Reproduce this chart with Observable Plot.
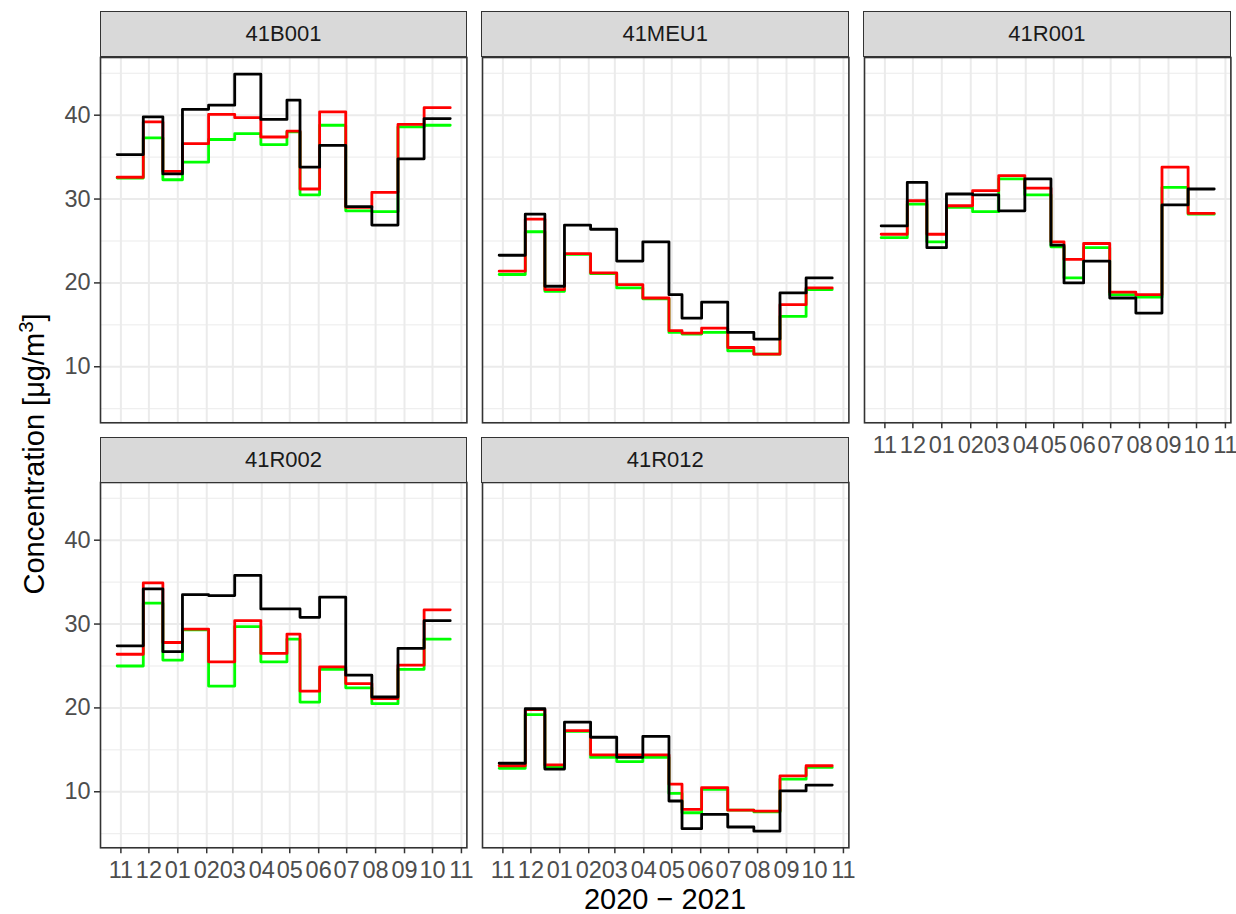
<!DOCTYPE html>
<html>
<head>
<meta charset="utf-8">
<script src="https://cdn.jsdelivr.net/npm/d3@7"></script>
<script src="https://cdn.jsdelivr.net/npm/@observablehq/plot@0.6"></script>
<style>
  body { margin: 0; background: #ffffff; font-family: "Liberation Sans", Arial, sans-serif; }
  #chart { position: relative; width: 1236px; height: 914px; overflow: hidden; background: #ffffff; }
  .strip {
    position: absolute; box-sizing: border-box;
    background: #D9D9D9; border: 1.5px solid #333333;
    color: #1A1A1A; font-size: 22px;
    display: flex; align-items: center; justify-content: center;
  }
  .panel { position: absolute; }
  .ytitle {
    position: absolute; white-space: nowrap; font-size: 29px; color: #000;
    transform: translate(-50%, -50%) rotate(-90deg);
  }
  .xtitle {
    position: absolute; white-space: nowrap; font-size: 29px; color: #000;
    transform: translateX(-50%); line-height: 1;
  }
</style>
</head>
<body>
<div id="chart"></div>
<script>
// Monitoring stations, one facet each
const stations = ["41B001", "41MEU1", "41R001", "41R002", "41R012"];

// Start of each sampling period; the last period ends on periodEnd
const periodStarts = [
  "2020-10-28", "2020-11-25", "2020-12-16", "2021-01-06", "2021-02-03",
  "2021-03-03", "2021-03-31", "2021-04-28", "2021-05-12", "2021-06-02",
  "2021-06-30", "2021-07-28", "2021-08-25", "2021-09-22"
];
const periodEnd = "2021-10-20";

// Month ticks along the x axis
const monthTicks = [
  "2020-11-01", "2020-12-01", "2021-01-01", "2021-02-01", "2021-03-01",
  "2021-04-01", "2021-05-01", "2021-06-01", "2021-07-01", "2021-08-01",
  "2021-09-01", "2021-10-01", "2021-11-01"
];
const yMajor = [10, 20, 30, 40];
const yMinor = [5, 15, 25, 35, 45];

// Period concentrations (µg/m³) per station, three series each
const b001Green = [32.5, 37.3, 32.3, 34.4, 37.1, 37.8, 36.5, 38.0, 30.5, 38.8, 28.6, 28.5, 38.6, 38.8];
const b001Red   = [32.6, 39.2, 33.3, 36.6, 40.1, 39.7, 37.4, 38.1, 31.2, 40.4, 29.0, 30.8, 38.9, 40.9];
const b001Black = [35.3, 39.8, 33.0, 40.7, 41.2, 44.9, 39.5, 41.8, 33.8, 36.4, 29.1, 26.9, 34.8, 39.6];

const meu1Green = [21.0, 26.1, 19.0, 23.4, 21.1, 19.4, 18.1, 14.1, 13.9, 14.1, 11.9, 11.5, 16.0, 19.2];
const meu1Red   = [21.4, 27.6, 19.2, 23.5, 21.2, 19.8, 18.2, 14.3, 14.0, 14.6, 12.3, 11.5, 17.4, 19.4];
const meu1Black = [23.3, 28.2, 19.6, 26.9, 26.4, 22.6, 24.9, 18.6, 15.8, 17.7, 14.1, 13.3, 18.8, 20.6];

const r001Green = [25.4, 29.4, 24.9, 29.0, 28.5, 32.4, 30.5, 24.3, 20.6, 24.2, 18.6, 18.3, 31.4, 28.2];
const r001Red   = [25.8, 29.8, 25.8, 29.2, 31.0, 32.8, 31.3, 24.9, 22.8, 24.7, 18.9, 18.6, 33.8, 28.3];
const r001Black = [26.8, 32.0, 24.2, 30.6, 30.5, 28.6, 32.4, 24.5, 20.0, 22.6, 18.2, 16.4, 29.3, 31.2];

const r002Green = [25.0, 32.5, 25.7, 29.3, 22.6, 29.7, 25.5, 28.2, 20.7, 24.6, 22.4, 20.5, 24.6, 28.2];
const r002Red   = [26.4, 34.9, 27.8, 29.4, 25.5, 30.4, 26.5, 28.8, 22.0, 24.9, 22.9, 21.1, 25.1, 31.7];
const r002Black = [27.4, 34.2, 26.7, 33.5, 33.4, 35.8, 31.8, 31.8, 30.8, 33.2, 23.9, 21.3, 27.1, 30.4];

const r012Green = [12.8, 19.2, 12.9, 17.2, 14.1, 13.6, 14.1, 9.8, 7.5, 10.3, 7.8, 7.6, 11.5, 12.9];
const r012Red   = [13.1, 19.8, 13.2, 17.3, 14.4, 14.4, 14.4, 10.9, 7.9, 10.5, 7.8, 7.7, 11.9, 13.1];
const r012Black = [13.4, 19.9, 12.7, 18.3, 16.5, 14.1, 16.6, 8.9, 5.6, 7.3, 5.8, 5.3, 10.1, 10.8];

const seriesNames = ["green", "red", "black"];
const seriesColors = ["#00FF00", "#FF0000", "#000000"];
const stationSeries = {
  "41B001": [b001Green, b001Red, b001Black],
  "41MEU1": [meu1Green, meu1Red, meu1Black],
  "41R001": [r001Green, r001Red, r001Black],
  "41R002": [r002Green, r002Red, r002Black],
  "41R012": [r012Green, r012Red, r012Black]
};

// Long table; each series repeats its last value at the period end so the final step is drawn
const starts = periodStarts.map(d => new Date(d));
const endDate = new Date(periodEnd);
const rows = [];
for (const station of stations) {
  stationSeries[station].forEach((values, s) => {
    values.forEach((v, i) => rows.push({station, series: seriesNames[s], date: starts[i], value: v}));
    rows.push({station, series: seriesNames[s], date: endDate, value: values[values.length - 1]});
  });
}

// Shared scales, padded by 5% on each side
const pad = ([a, b]) => [a - (b - a) * 0.05, b + (b - a) * 0.05];
const yDomain = pad(d3.extent(rows, d => d.value));
const [t0, t1] = d3.extent(rows, d => +d.date);
const xDomain = pad([t0, t1]).map(t => new Date(t));
const ticks = monthTicks.map(d => new Date(d));

// Facet layout (3 columns)
const panelW = 366.4, panelH = 365.3, colStep = 381.7, x0 = 100.3;
const rowTops = [56.7, 482.4], stripH = 45.7;
const mL = 80, mR = 4, mT = 4, mB = 50;
const tickFont = 23.5;

const chart = document.getElementById("chart");

stations.forEach((station, k) => {
  const col = k % 3, row = Math.floor(k / 3);
  const left = x0 + col * colStep, top = rowTops[row];
  const showY = col === 0;
  const showX = row === 1 || k + 3 >= stations.length;
  const data = rows.filter(d => d.station === station);

  const marks = [
    Plot.ruleY(yMinor, {stroke: "#EBEBEB", strokeWidth: 1}),
    Plot.ruleY(yMajor, {stroke: "#EBEBEB", strokeWidth: 2}),
    Plot.ruleX(ticks, {stroke: "#EBEBEB", strokeWidth: 2}),
    ...seriesNames.map((name, s) =>
      Plot.line(data.filter(d => d.series === name), {
        x: "date", y: "value", curve: "step-after",
        stroke: seriesColors[s], strokeWidth: 2.8
      })),
    Plot.frame({stroke: "#333333", strokeWidth: 1.6})
  ];
  if (showY) marks.push(Plot.axisY(yMajor, {
    tickSize: 6, tickPadding: 4, stroke: "#333333", strokeWidth: 1.5,
    fill: "#4D4D4D", fontSize: tickFont, label: null
  }));
  if (showX) marks.push(Plot.axisX(ticks, {
    tickSize: 6, tickPadding: 8, stroke: "#333333", strokeWidth: 1.5,
    fill: "#4D4D4D", fontSize: tickFont, label: null, tickFormat: d3.utcFormat("%m")
  }));

  const svg = Plot.plot({
    width: panelW + mL + mR,
    height: panelH + mT + mB,
    marginLeft: mL, marginRight: mR, marginTop: mT, marginBottom: mB,
    x: {type: "utc", domain: xDomain, axis: null},
    y: {domain: yDomain, axis: null},
    style: {background: "transparent", fontFamily: "Liberation Sans, Arial, sans-serif", overflow: "visible"},
    marks
  });
  svg.classList.add("panel");
  svg.style.left = (left - mL) + "px";
  svg.style.top = (top - mT) + "px";
  svg.style.maxWidth = "none";
  chart.appendChild(svg);

  const strip = document.createElement("div");
  strip.className = "strip";
  strip.textContent = station;
  strip.style.left = (left - 0.75) + "px";
  strip.style.top = (top - stripH) + "px";
  strip.style.width = (panelW + 1.5) + "px";
  strip.style.height = (stripH + 0.75) + "px";
  chart.appendChild(strip);
});

// Axis titles
const yTitle = document.createElement("div");
yTitle.className = "ytitle";
yTitle.innerHTML = "Concentration [μg/m<sup style=\"font-size:0.7em;\">3</sup>]";
yTitle.style.left = "33px";
yTitle.style.top = "454px";
chart.appendChild(yTitle);

const xTitle = document.createElement("div");
xTitle.className = "xtitle";
xTitle.textContent = "2020 − 2021";
xTitle.style.left = "665px";
xTitle.style.top = "885px";
chart.appendChild(xTitle);
</script>
</body>
</html>
